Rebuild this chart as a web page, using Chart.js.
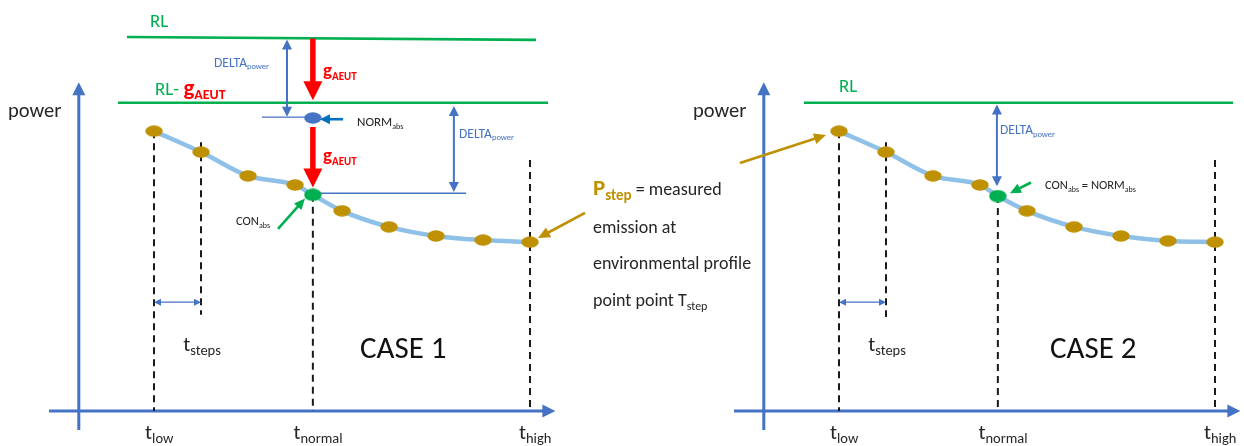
<!DOCTYPE html>
<html><head><meta charset="utf-8">
<script src="https://cdn.jsdelivr.net/npm/chart.js@4.4.1/dist/chart.umd.min.js"></script>
<style>html,body{margin:0;padding:0;background:#fff;overflow:hidden}canvas{display:block}</style>
</head><body>
<canvas id="c" width="1244" height="446"></canvas>
<script>
// ---------------- data ----------------
const stepIndex   = [0, 1, 2, 3, 4, 5, 6, 7, 8];          // t_low + k * t_steps
const case1Power  = [68.1, 63.0, 57.2, 55.0, 48.7, 44.8, 42.6, 41.6, 41.1];
const case2Power  = [68.1, 63.0, 57.2, 55.0, 48.7, 44.8, 42.6, 41.4, 41.1];
const tNormal     = 3.38;
const case1Con    = 52.6;   // CON_abs
const case1Norm   = 71.3;   // NORM_abs
const case2Con    = 52.3;   // CON_abs = NORM_abs
const case1RL     = [91.0, 90.3];
const case1RLminusG = 75.0;
const case2RL     = 75.0;
const tickNames   = ['low', 'normal', 'high'];
const tickSteps   = [0, tNormal, 8];

// ---------------- layout ----------------
const X_MIN = -3.2766, X_MAX = 23.191, Y_MIN = -8.5, Y_MAX = 100;
const SHIFT2 = 14.574;               // horizontal place of the CASE 2 panel
const FONT = 'Carlito, Lato, sans-serif';
const GREEN = '#00B050', BLUE = '#4472C4', GOLD = '#BF9000', RED = '#FF0000', DARK = '#262626';
const CURVE = '#8EC0E8';

function ellipseImg(w, h, color) {
  const c = document.createElement('canvas'); c.width = w; c.height = h;
  const g = c.getContext('2d'); g.fillStyle = color;
  g.beginPath(); g.ellipse(w / 2, h / 2, w / 2 - 0.3, h / 2 - 0.3, 0, 0, Math.PI * 2); g.fill();
  return c;
}
const goldDot = ellipseImg(18, 12, GOLD);
const greenDot = ellipseImg(18, 13, GREEN);
const blueDot = ellipseImg(18, 12, BLUE);

function pts(xs, ys, shift) { return xs.map((x, i) => ({ x: x + shift, y: ys[i] })); }
function curve(power, con, shift) {
  const a = pts(stepIndex, power, shift);
  a.push({ x: tNormal + shift, y: con });
  return a.sort((p, q) => p.x - q.x);
}
function seg(x1, y1, x2, y2) { return [{ x: x1, y: y1 }, { x: x2, y: y2 }]; }

const lineDs = (data, color, width, order, dash) => ({
  type: 'line', data, borderColor: color, borderWidth: width, pointRadius: 0,
  borderDash: dash || [], fill: false, order, tension: 0
});
const dotDs = (data, img) => ({
  type: 'scatter', data, pointStyle: img, pointRadius: 6, showLine: false, order: 0
});

const datasets = [
  dotDs(pts(stepIndex, case1Power, 0), goldDot),
  dotDs(pts(stepIndex, case2Power, SHIFT2), goldDot),
  dotDs([{ x: tNormal, y: case1Con }, { x: tNormal + SHIFT2, y: case2Con }], greenDot),
  dotDs([{ x: tNormal, y: case1Norm }], blueDot),
  Object.assign(lineDs(curve(case1Power, case1Con, 0), CURVE, 4.5, 1), { cubicInterpolationMode: 'monotone' }),
  Object.assign(lineDs(curve(case2Power, case2Con, SHIFT2), CURVE, 4.5, 1), { cubicInterpolationMode: 'monotone' }),
  // reference levels
  lineDs(seg(-0.574, case1RL[0], 8.128, case1RL[1]), GREEN, 2.6, 2),
  lineDs(seg(-0.766, case1RLminusG, 8.383, case1RLminusG), GREEN, 2.6, 2),
  lineDs(seg(-0.745 + SHIFT2, case2RL, 8.383 + SHIFT2, case2RL), GREEN, 2.6, 2),
  // thin blue level lines (case 1)
  lineDs(seg(2.298, case1Norm + 0.2, tNormal - 0.08, case1Norm + 0.2), BLUE, 1.4, 2),
  lineDs(seg(tNormal, case1Con + 0.4, 6.64, case1Con + 0.4), BLUE, 1.4, 2),
  // dashed step markers
  lineDs(seg(0, case1Power[0], 0, 0), '#1a1a1a', 2, 3, [7, 5]),
  lineDs(seg(1, 65.4, 1, 23.4), '#1a1a1a', 2, 3, [7, 5]),
  lineDs(seg(tNormal, case1Con, tNormal, 0), '#1a1a1a', 2, 3, [7, 5]),
  lineDs(seg(8, 61.1, 8, 0), '#1a1a1a', 2, 3, [7, 5]),
  lineDs(seg(SHIFT2, case2Power[0], SHIFT2, 0), '#1a1a1a', 2, 3, [7, 5]),
  lineDs(seg(1 + SHIFT2, 65.4, 1 + SHIFT2, 22.9), '#1a1a1a', 2, 3, [7, 5]),
  lineDs(seg(tNormal + SHIFT2, case2Con, tNormal + SHIFT2, 0), '#1a1a1a', 2, 3, [7, 5]),
  lineDs(seg(8 + SHIFT2, 61.1, 8 + SHIFT2, 0), '#1a1a1a', 2, 3, [7, 5])
];

// ---------------- drawing helpers ----------------
function arrowHead(ctx, x1, y1, x2, y2, len, wid, color) {
  const a = Math.atan2(y2 - y1, x2 - x1);
  ctx.save(); ctx.fillStyle = color; ctx.translate(x2, y2); ctx.rotate(a);
  ctx.beginPath(); ctx.moveTo(0, 0); ctx.lineTo(-len, -wid / 2); ctx.lineTo(-len, wid / 2); ctx.closePath(); ctx.fill();
  ctx.restore();
}
function arrow(ctx, x1, y1, x2, y2, o) {
  const a = Math.atan2(y2 - y1, x2 - x1), c = Math.cos(a), s = Math.sin(a);
  let sx = x1, sy = y1;
  if (o.both) { sx = x1 + c * o.len * 0.8; sy = y1 + s * o.len * 0.8; }
  const ex = x2 - c * o.len * 0.8, ey = y2 - s * o.len * 0.8;
  ctx.save(); ctx.strokeStyle = o.color; ctx.lineWidth = o.width; ctx.lineCap = 'butt';
  ctx.beginPath(); ctx.moveTo(sx, sy); ctx.lineTo(ex, ey); ctx.stroke(); ctx.restore();
  arrowHead(ctx, x1, y1, x2, y2, o.len, o.wid, o.color);
  if (o.both) arrowHead(ctx, x2, y2, x1, y1, o.len, o.wid, o.color);
}
function rich(ctx, x, yc, parts, align) {
  let w = 0;
  parts.forEach(p => { ctx.font = (p.b ? 'bold ' : '') + p.s + 'px ' + FONT; p.w = ctx.measureText(p.t).width; w += p.w; });
  let sx = align === 'center' ? x - w / 2 : x;
  const m = parts[0].s, base = yc + m * 0.33;
  ctx.textBaseline = 'alphabetic'; ctx.textAlign = 'left';
  parts.forEach(p => {
    ctx.font = (p.b ? 'bold ' : '') + p.s + 'px ' + FONT; ctx.fillStyle = p.c;
    ctx.fillText(p.t, sx, base + (p.sub ? m * 0.2 : 0)); sx += p.w;
  });
}

const AX = { color: BLUE, width: 3, len: 13, wid: 13 };
const DA = { color: BLUE, width: 2, len: 10, wid: 10, both: true };
const RA = { color: RED, width: 5.5, len: 19, wid: 19 };
const GA = { color: GOLD, width: 2.6, len: 12, wid: 11 };
const GRA = { color: GREEN, width: 2.6, len: 11, wid: 10 };

const diagram = {
  id: 'diagram',
  beforeDatasetsDraw(chart) {
    const ctx = chart.ctx, X = v => chart.scales.x.getPixelForValue(v), Y = v => chart.scales.y.getPixelForValue(v);
    [0, SHIFT2].forEach(s => {
      arrow(ctx, X(-1.6 + s), Y(-4.6), X(-1.6 + s), Y(80.0), AX);
      arrow(ctx, X(-2.234 + s), Y(0), X(8.54 + s), Y(0), AX);
    });
  },
  afterDatasetsDraw(chart) {
    const ctx = chart.ctx, X = v => chart.scales.x.getPixelForValue(v), Y = v => chart.scales.y.getPixelForValue(v);
    const A = (x1, y1, x2, y2, o) => arrow(ctx, X(x1), Y(y1), X(x2), Y(y2), o);
    const T = (x, y, parts, al) => rich(ctx, X(x), Y(y), parts, al);
    const sub = (t, s, c, b) => ({ t, s, c, b, sub: true });
    const txt = (t, s, c, b) => ({ t, s, c, b });

    // ---- case 1 annotations ----
    A(2.83, 90.4, 2.83, 71.6, DA);
    A(6.38, 74.2, 6.38, 53.3, DA);
    A(tNormal, 90.6, tNormal, 75.6, RA);
    A(tNormal, 69.1, tNormal, 54.4, RA);
    A(4.021, 71.0, 3.53, 71.0, { color: '#0070C0', width: 2.6, len: 10, wid: 10 });
    A(2.638, 44.3, 3.213, 51.7, GRA);
    A(9.17, 48.2, 8.17, 42.1, GA);
    // ---- case 2 annotations ----
    A(3.36 + SHIFT2, 74.6, 3.36 + SHIFT2, 54.7, DA);
    A(4.085 + SHIFT2, 55.6, 3.638 + SHIFT2, 53.0, GRA);
    A(-2.106 + SHIFT2, 60.35, -0.277 + SHIFT2, 67.16, GA);
    [0, SHIFT2].forEach(s => A(0 + s, 26.5, 1 + s, 26.5, { color: BLUE, width: 1.4, len: 7, wid: 7, both: true }));

    // ---- texts ----
    T(-0.085, 94.9, [txt('RL', 19, GREEN)]);
    T(0.021, 78.4, [txt('RL- ', 19, GREEN), txt('g', 23, RED, true), sub('AEUT', 14, RED, true)]);
    T(1.277, 84.9, [txt('DELTA', 13.5, BLUE), sub('power', 8.5, BLUE)]);
    T(3.596, 83.0, [txt('g', 19, RED, true), sub('AEUT', 11, RED, true)]);
    T(3.596, 62.3, [txt('g', 19, RED, true), sub('AEUT', 11, RED, true)]);
    T(4.319, 70.3, [txt('NORM', 13, DARK), sub('abs', 8, DARK)]);
    T(6.489, 67.6, [txt('DELTA', 13.5, BLUE), sub('power', 8.5, BLUE)]);
    T(1.745, 46.2, [txt('CON', 12.5, DARK), sub('abs', 8, DARK)]);
    T(4.383, 15.3, [txt('CASE 1', 31, '#111')]);

    T(3.426 + SHIFT2, 68.4, [txt('DELTA', 13.5, BLUE), sub('power', 8.5, BLUE)]);
    T(4.383 + SHIFT2, 55.0, [txt('CON', 12.5, DARK), sub('abs', 8, DARK), txt(' = NORM', 12.5, DARK), sub('abs', 8, DARK)]);
    T(0 + SHIFT2, 79.1, [txt('RL', 19, GREEN)]);
    T(4.489 + SHIFT2, 15.3, [txt('CASE 2', 31, '#111')]);

    [0, SHIFT2].forEach(s => {
      T(-3.106 + s, 73.2, [txt('power', 20.5, DARK)]);
      T(0.62 + s, 16.4, [txt('t', 21, DARK), sub('steps', 14.5, DARK)]);
      tickNames.forEach((n, i) => T(tickSteps[i] + 0.11 + s, -5.0, [txt('t', 21, DARK), sub(n, 14.5, DARK)], 'center'));
    });

    // ---- middle note ----
    T(9.34, 54.3, [txt('P', 23, GOLD, true), sub('step', 15, GOLD, true), txt(' = measured', 18, DARK)]);
    T(9.34, 44.8, [txt('emission at', 18, DARK)]);
    T(9.34, 36.0, [txt('environmental profile', 18, DARK)]);
    T(9.34, 27.0, [txt('point point T', 18, DARK), sub('step', 12, DARK)]);
  }
};

new Chart(document.getElementById('c'), {
  type: 'scatter',
  data: { datasets },
  options: {
    responsive: false, animation: false, devicePixelRatio: 1,
    layout: { padding: 0, autoPadding: false },
    plugins: { legend: { display: false }, tooltip: { enabled: false } },
    scales: {
      x: { type: 'linear', display: false, min: X_MIN, max: X_MAX },
      y: { type: 'linear', display: false, min: Y_MIN, max: Y_MAX }
    },
    elements: { point: { hoverRadius: 6 } }
  },
  plugins: [diagram]
});
</script>
</body></html>
